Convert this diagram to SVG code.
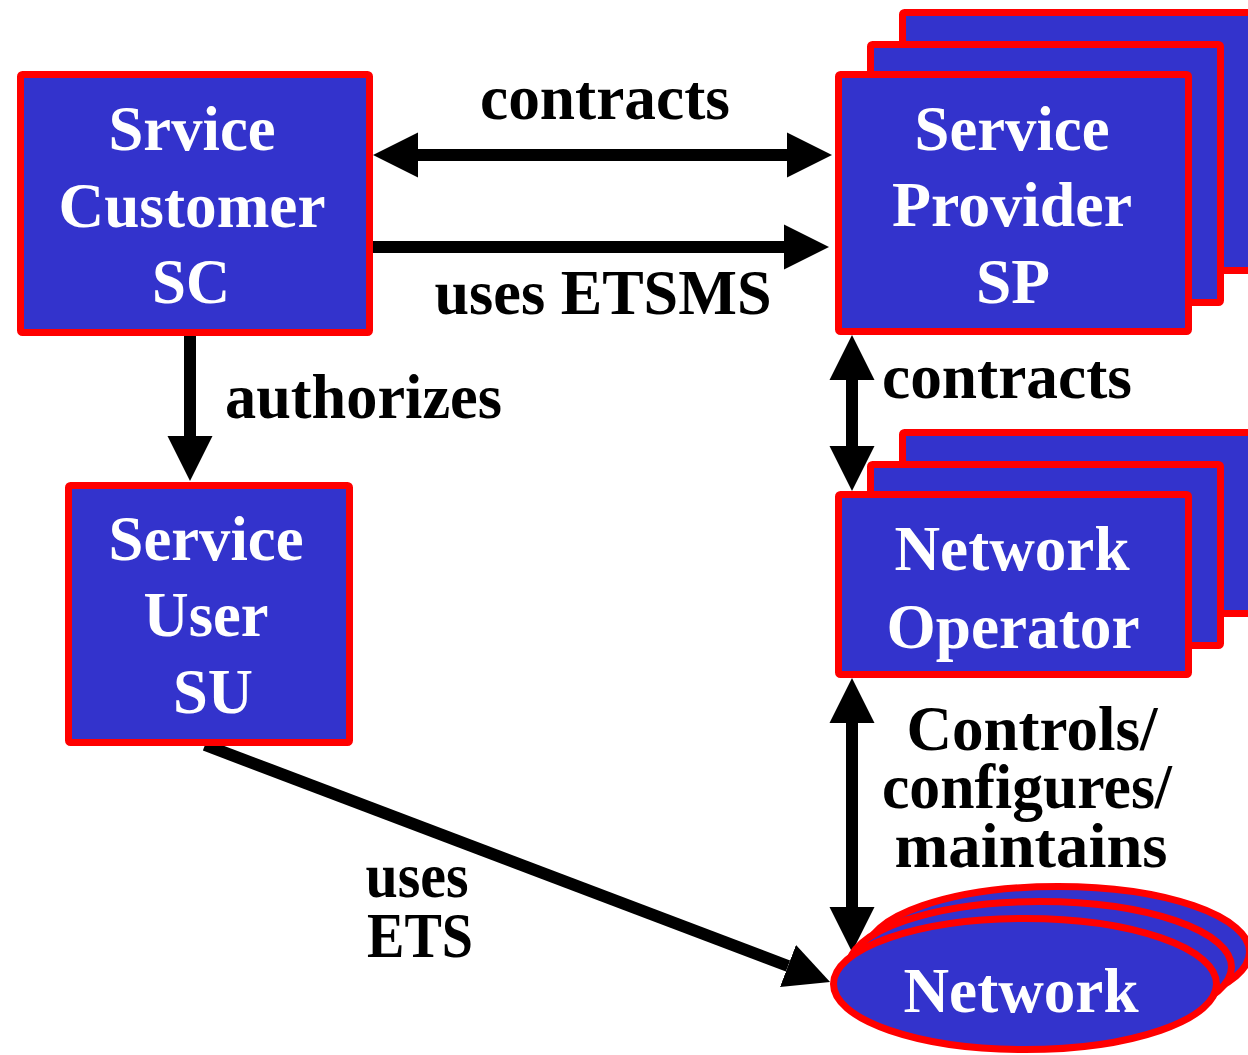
<svg xmlns="http://www.w3.org/2000/svg" width="1248" height="1055" viewBox="0 0 1248 1055">
<style>
.box{fill:#3333CC;stroke:#FF0000;stroke-width:7;stroke-linejoin:round}
.nt{font-family:"Liberation Serif","Times New Roman",serif;font-weight:700;font-size:64px;fill:#FFFFFF;text-anchor:middle}
.lb{font-family:"Liberation Serif","Times New Roman",serif;font-weight:700;font-size:64px;fill:#000000}
.c{text-anchor:middle}
.ln{stroke:#000;stroke-width:12;fill:none}
</style>
<defs>
<marker id="ah" viewBox="0 -23 46 46" refX="0" refY="0" markerWidth="46" markerHeight="46" markerUnits="userSpaceOnUse" orient="auto-start-reverse">
<path d="M0,-22.5 L45,0 L0,22.5 Z" fill="#000"/>
</marker>
</defs>
<rect width="1248" height="1055" fill="#FFFFFF"/>
<g id="connectors">
<line class="ln" x1="418" y1="155" x2="787" y2="155" marker-start="url(#ah)" marker-end="url(#ah)"/>
<line class="ln" x1="373" y1="247" x2="784" y2="247" marker-end="url(#ah)"/>
<line class="ln" x1="190" y1="336" x2="190" y2="436" marker-end="url(#ah)"/>
<line class="ln" x1="852" y1="380" x2="852" y2="446" marker-start="url(#ah)" marker-end="url(#ah)"/>
<line class="ln" x1="852" y1="723" x2="852" y2="907" marker-start="url(#ah)" marker-end="url(#ah)"/>
<line class="ln" x1="205" y1="745" x2="788" y2="966" marker-end="url(#ah)"/>
</g>
<g id="labels">
<text class="lb c" x="605" y="119" textLength="250" lengthAdjust="spacingAndGlyphs">contracts</text>
<text class="lb c" x="603" y="314" textLength="337" lengthAdjust="spacingAndGlyphs">uses ETSMS</text>
<text class="lb" x="225" y="418" textLength="277" lengthAdjust="spacingAndGlyphs">authorizes</text>
<text class="lb" x="882" y="398" textLength="250" lengthAdjust="spacingAndGlyphs">contracts</text>
<text class="lb c" x="1032" y="750" textLength="251" lengthAdjust="spacingAndGlyphs">Controls/</text>
<text class="lb c" x="1027" y="808" textLength="290" lengthAdjust="spacingAndGlyphs">configures/</text>
<text class="lb c" x="1031" y="867" textLength="273" lengthAdjust="spacingAndGlyphs">maintains</text>
<text class="lb c" x="417" y="897" textLength="103" lengthAdjust="spacingAndGlyphs">uses</text>
<text class="lb c" x="420" y="957" textLength="106" lengthAdjust="spacingAndGlyphs">ETS</text>
</g>
<g id="sc">
<rect class="box" x="20.5" y="74.5" width="349" height="258" rx="2"/>
<text class="nt" x="192" y="150" textLength="167" lengthAdjust="spacingAndGlyphs">Srvice</text>
<text class="nt" x="192" y="227" textLength="267" lengthAdjust="spacingAndGlyphs">Customer</text>
<text class="nt" x="191" y="303" textLength="78" lengthAdjust="spacingAndGlyphs">SC</text>
</g>
<g id="sp">
<rect class="box" x="902.5" y="12.5" width="350" height="258" rx="2"/>
<rect class="box" x="870.5" y="44.5" width="350" height="258" rx="2"/>
<rect class="box" x="838.5" y="74.5" width="350" height="257" rx="2"/>
<text class="nt" x="1012" y="150" textLength="195" lengthAdjust="spacingAndGlyphs">Service</text>
<text class="nt" x="1012" y="226" textLength="240" lengthAdjust="spacingAndGlyphs">Provider</text>
<text class="nt" x="1013" y="303" textLength="74" lengthAdjust="spacingAndGlyphs">SP</text>
</g>
<g id="su">
<rect class="box" x="68.5" y="485.5" width="281" height="257" rx="2"/>
<text class="nt" x="206" y="560" textLength="195" lengthAdjust="spacingAndGlyphs">Service</text>
<text class="nt" x="206" y="636" textLength="125" lengthAdjust="spacingAndGlyphs">User</text>
<text class="nt" x="213" y="713" textLength="80" lengthAdjust="spacingAndGlyphs">SU</text>
</g>
<g id="no">
<rect class="box" x="902.5" y="432.5" width="350" height="181" rx="2"/>
<rect class="box" x="870.5" y="464.5" width="350" height="181" rx="2"/>
<rect class="box" x="838.5" y="494.5" width="350" height="180" rx="2"/>
<text class="nt" x="1012" y="570" textLength="235" lengthAdjust="spacingAndGlyphs">Network</text>
<text class="nt" x="1013" y="648" textLength="253" lengthAdjust="spacingAndGlyphs">Operator</text>
</g>
<g id="network">
<ellipse class="box" cx="1058" cy="952" rx="191.5" ry="65.5"/>
<ellipse class="box" cx="1040" cy="967" rx="191.5" ry="65.5"/>
<ellipse class="box" cx="1025" cy="984" rx="191.5" ry="65.5"/>
<text class="nt" x="1021" y="1012" textLength="235" lengthAdjust="spacingAndGlyphs">Network</text>
</g>
</svg>
